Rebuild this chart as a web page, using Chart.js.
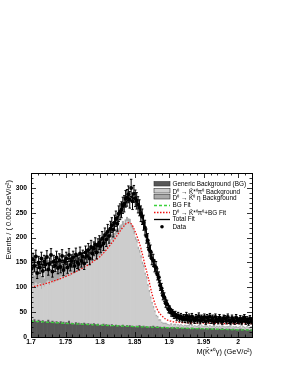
<!DOCTYPE html>
<html><head><meta charset="utf-8">
<script src="https://cdn.jsdelivr.net/npm/chart.js@4"></script>
<style>html,body{margin:0;padding:0;background:#fff;}canvas{display:block;}</style>
</head><body>
<canvas id="c" width="287" height="371"></canvas>
<script>
// ---- binning ----
const binStart = 1.7;
const binWidth = 0.002;

// ---- data counts (160 bins of 0.002 GeV/c^2) ----
const dataCounts = [
 138,156,143,162,129,150,140,158,133,152,
 146,161,136,147,165,132,152,144,160,139,
 155,141,163,135,151,158,140,165,145,153,
 160,143,166,150,147,168,153,162,148,170,
 163,175,158,181,168,178,186,170,184,190,
 183,198,188,205,196,212,203,218,225,216,
 230,238,228,248,252,256,265,268,278,280,
 287,276,300,273,288,279,274,266,260,248,
 242,230,220,203,194,176,172,158,154,143,
 140,126,120,104,98,84,80,68,66,56,
 55,49,48,44,45,40,43,38,41,36,
 39,35,43,34,40,32,41,36,33,39,
 34,42,32,38,35,40,31,39,34,41,
 33,38,30,40,35,32,39,34,31,38,
 37,32,40,33,30,38,34,31,39,33,
 32,37,30,36,39,31,35,29,37,32
];

// ---- stacked MC background histograms ----
const genericBG = [
 33,30,35,31,29,34,32,28,33,30,
 31,29,34,30,28,32,30,27,31,29,
 28,31,27,30,26,29,28,32,26,28,
 27,25,29,26,28,24,27,25,28,26,
 25,27,24,26,23,27,25,24,26,23,
 24,22,26,23,25,22,24,21,25,23,
 22,24,21,23,22,20,24,22,21,23,
 21,23,20,22,21,19,22,20,23,21,
 20,22,19,21,20,18,21,19,22,20,
 19,21,18,20,19,17,20,18,19,18,
 18,19,17,19,18,16,19,17,18,17,
 17,18,16,18,17,15,18,16,17,16,
 16,18,15,17,16,15,17,16,15,17,
 16,15,17,14,16,15,16,14,17,15,
 15,16,14,16,15,13,16,14,15,14,
 14,16,13,15,14,13,15,14,13,15
];
const kstarPi0BG = [
 66,74,70,78,69,72,76,68,74,71,
 76,82,79,74,84,80,78,86,81,85,
 86,90,94,88,97,92,95,99,96,101,
 100,106,103,110,107,113,109,116,112,118,
 117,124,121,128,126,133,130,136,134,140,
 140,146,150,148,158,155,163,166,170,168,
 176,180,186,184,193,196,200,198,206,210,
 210,206,200,194,186,176,168,156,146,138,
 126,118,106,96,82,72,56,48,36,30,
 22,18,14,12,9,8,6,7,5,5,
 4,5,3,4,5,3,4,3,5,4,
 3,4,4,3,5,3,4,3,4,3,
 4,3,3,4,3,5,3,4,3,4,
 3,4,3,3,4,3,4,3,3,4,
 3,3,4,3,4,3,3,4,3,3,
 4,3,3,4,3,3,4,3,3,4
];
const kEtaBG = [
 22,40,18,34,44,20,36,26,42,16,
 38,24,41,30,17,39,25,35,20,33,
 31,19,37,24,15,34,22,30,27,18,
 28,17,30,19,25,16,27,14,24,20,
 19,24,14,22,15,21,13,20,12,18,
 15,11,17,12,14,10,13,9,12,10,
 11,12,10,11,9,10,9,8,9,8,
 7,8,7,6,7,6,6,5,6,5,
 5,5,4,5,4,4,4,3,4,3,
 3,3,3,3,2,3,2,3,2,2,
 2,3,2,2,3,2,2,3,2,2,
 2,2,3,2,2,2,3,2,2,2,
 2,3,2,2,2,2,3,2,2,2,
 2,2,2,3,2,2,2,2,3,2,
 2,2,3,2,2,2,2,2,3,2,
 2,2,2,2,3,2,2,2,2,2
];

// ---- fit curves ----
const fitX     = [1.70,1.72,1.74,1.76,1.78,1.79,1.80,1.81,1.82,1.83,1.835,1.84,1.845,1.85,1.855,1.86,1.865,1.87,1.875,1.88,1.885,1.89,1.895,1.90,1.91,1.92,1.94,1.96,1.98,2.00,2.02];
const fitTotal = [143,147,152,160,172,181,192,209,228,252,265,275,280,278,268,250,222,190,160,138,115,94,76,62,46,39,34,32,31,31,31];
const fitSigBG = [100,107,116,128,143,152,162,177,195,215,224,230,228,215,197,174,145,118,88,65,50,42,36,33,30,29,28,28,27,27,27];
const bgFitX   = [1.70,1.75,1.80,1.85,1.90,1.95,2.00,2.02];
const bgFit    = [32,27.5,24,21,18.5,16.5,14.5,14];

// ---- axes ----
const xTicks = [1.7,1.75,1.8,1.85,1.9,1.95,2.0];
const xTickLabels = ['1.7','1.75','1.8','1.85','1.9','1.95','2'];
const yTicks = [0,50,100,150,200,250,300];
const yTickLabels = ['0','50','100','150','200','250','300'];

const FONT = "'Liberation Sans', Arial, Helvetica, sans-serif";
const centers = dataCounts.map((_, i) => +(binStart + binWidth * (i + 0.5)).toFixed(4));
const pts = arr => arr.map((v, i) => ({x: centers[i], y: v}));
const xy = (xs, ys) => xs.map((x, i) => ({x: x, y: ys[i]}));

const decoPlugin = {
  id: 'deco',
  afterDatasetsDraw(chart) {
    const {ctx, scales: {x, y}, chartArea: a} = chart;
    ctx.save();
    ctx.beginPath(); ctx.rect(a.left, a.top, a.right - a.left, a.bottom - a.top); ctx.clip();
    ctx.strokeStyle = '#000'; ctx.lineWidth = 1;
    dataCounts.forEach((v, i) => {
      const e = Math.sqrt(v);
      const px = x.getPixelForValue(centers[i]);
      const y1 = y.getPixelForValue(v + e), y2 = y.getPixelForValue(v - e);
      ctx.beginPath();
      ctx.moveTo(px, y1); ctx.lineTo(px, y2);
      ctx.moveTo(px - 1.2, y1); ctx.lineTo(px + 1.2, y1);
      ctx.moveTo(px - 1.2, y2); ctx.lineTo(px + 1.2, y2);
      ctx.stroke();
    });
    ctx.restore();
  },
  afterDraw(chart) {
    const {ctx, scales: {x, y}, chartArea: a} = chart;
    ctx.save();
    ctx.strokeStyle = '#000'; ctx.lineWidth = 1;
    ctx.strokeRect(Math.round(a.left) + 0.5, Math.round(a.top) + 0.5, Math.round(a.right - a.left), Math.round(a.bottom - a.top));
    ctx.beginPath();
    for (let k = 0; k <= 32; k++) {
      const v = 1.7 + k * 0.01;
      const px = Math.round(x.getPixelForValue(v)) + 0.5;
      const L = (k % 5 === 0) ? 5 : 2.5;
      ctx.moveTo(px, a.bottom); ctx.lineTo(px, a.bottom - L);
      ctx.moveTo(px, a.top); ctx.lineTo(px, a.top + L);
    }
    for (let v = 0; v <= 330; v += 10) {
      const py = Math.round(y.getPixelForValue(v)) + 0.5;
      const L = (v % 50 === 0) ? 5 : 2.5;
      ctx.moveTo(a.left, py); ctx.lineTo(a.left + L, py);
      ctx.moveTo(a.right, py); ctx.lineTo(a.right - L, py);
    }
    ctx.lineWidth = 0.8;
    ctx.stroke();

    ctx.fillStyle = '#000';
    ctx.font = '7.4px ' + FONT;
    ctx.textAlign = 'right'; ctx.textBaseline = 'middle';
    ctx.fillText('M(K\u0304*\u2070\u03B3) (GeV/c\u00B2)', a.right, 351.5);
    ctx.save();
    ctx.translate(8.5, 180); ctx.rotate(-Math.PI / 2);
    ctx.fillText('Events / ( 0.002 GeV/c\u00B2)', 0, 0);
    ctx.restore();

    const sx0 = 154, sx1 = 170, tx = 172.5;
    ctx.font = '6.4px ' + FONT;
    ctx.textAlign = 'left'; ctx.textBaseline = 'middle';
    const boxes = [
      {fill: '#575757', y0: 181.5, label: 'Generic Background (BG)', ty: 183.9},
      {fill: '#cdcdcd', y0: 188.5, label: 'D\u2070 \u2192 K\u0304*\u2070\u03C0\u2070 Background', ty: 192.2},
      {fill: '#a9a9a9', y0: 194.5, label: 'D\u2070 \u2192 K\u0304\u2070 \u03B7 Background', ty: 198.4}
    ];
    boxes.forEach(b => {
      ctx.fillStyle = b.fill; ctx.fillRect(sx0, b.y0, sx1 - sx0, 4.5);
      ctx.strokeStyle = '#333'; ctx.lineWidth = 0.6; ctx.strokeRect(sx0, b.y0, sx1 - sx0, 4.5);
      ctx.fillStyle = '#000'; ctx.fillText(b.label, tx, b.ty);
    });
    ctx.lineWidth = 1.3;
    ctx.strokeStyle = '#3bd13b'; ctx.setLineDash([3, 2]);
    ctx.beginPath(); ctx.moveTo(sx0, 205.5); ctx.lineTo(sx1, 205.5); ctx.stroke();
    ctx.fillStyle = '#000'; ctx.fillText('BG Fit', tx, 205.5);
    ctx.strokeStyle = '#ee1111'; ctx.setLineDash([1.5, 1.5]);
    ctx.beginPath(); ctx.moveTo(sx0, 212.5); ctx.lineTo(sx1, 212.5); ctx.stroke();
    ctx.fillText('D\u2070 \u2192 K\u0304*\u2070\u03C0\u2070+BG Fit', tx, 213.3);
    ctx.setLineDash([]);
    ctx.strokeStyle = '#000';
    ctx.beginPath(); ctx.moveTo(sx0, 219.5); ctx.lineTo(sx1, 219.5); ctx.stroke();
    ctx.fillText('Total Fit', tx, 219.2);
    ctx.beginPath(); ctx.arc((sx0 + sx1) / 2, 226.8, 1.8, 0, Math.PI * 2); ctx.fill();
    ctx.fillText('Data', tx, 226.8);
    ctx.restore();
  }
};

new Chart(document.getElementById('c'), {
  data: {
    datasets: [
      {type: 'line', label: 'Data', data: pts(dataCounts), showLine: false, pointRadius: 2,
       pointBackgroundColor: '#000', pointBorderWidth: 0, stack: 's_data', order: 1},
      {type: 'line', label: 'Total Fit', data: xy(fitX, fitTotal), borderColor: '#000', borderWidth: 1.5,
       pointRadius: 0, cubicInterpolationMode: 'monotone', fill: false, stack: 's_tot', order: 2},
      {type: 'line', label: 'Sig+BG Fit', data: xy(fitX, fitSigBG), borderColor: '#ee1111', borderWidth: 1.3,
       borderDash: [1.5, 1.5], pointRadius: 0, cubicInterpolationMode: 'monotone', fill: false, stack: 's_red', order: 3},
      {type: 'line', label: 'BG Fit', data: xy(bgFitX, bgFit), borderColor: '#3bd13b', borderWidth: 1.3,
       borderDash: [3, 2], pointRadius: 0, cubicInterpolationMode: 'monotone', fill: false, stack: 's_green', order: 4},
      {type: 'bar', label: 'Generic BG', data: pts(genericBG), backgroundColor: '#575757', borderWidth: 0,
       barPercentage: 1, categoryPercentage: 1, stack: 'hist', order: 10},
      {type: 'bar', label: 'Kstar pi0 BG', data: pts(kstarPi0BG), backgroundColor: '#cdcdcd', borderWidth: 0,
       barPercentage: 1, categoryPercentage: 1, stack: 'hist', order: 10},
      {type: 'bar', label: 'K eta BG', data: pts(kEtaBG), backgroundColor: '#a9a9a9', borderWidth: 0,
       barPercentage: 1, categoryPercentage: 1, stack: 'hist', order: 10}
    ]
  },
  options: {
    responsive: false, animation: false, devicePixelRatio: 1,
    layout: {padding: {left: 0, right: 35, top: 173, bottom: 0}},
    plugins: {legend: {display: false}, tooltip: {enabled: false}},
    scales: {
      x: {type: 'linear', min: 1.7, max: 2.02, stacked: true, offset: false,
          grid: {display: false, drawTicks: false, offset: false}, border: {display: false},
          afterBuildTicks: s => { s.ticks = xTicks.map(v => ({value: v})); },
          afterFit: s => { s.height = 34; },
          ticks: {padding: 1, color: '#000', font: {family: FONT, size: 6.8, weight: 'bold'},
                  maxRotation: 0, autoSkip: false, callback: (v, i) => xTickLabels[i]}},
      y: {type: 'linear', min: 0, max: 330, stacked: true,
          grid: {display: false, drawTicks: false}, border: {display: false},
          afterBuildTicks: s => { s.ticks = yTicks.map(v => ({value: v})); },
          afterFit: s => { s.width = 31; },
          ticks: {padding: 4, color: '#000', font: {family: FONT, size: 6.8, weight: 'bold'},
                  autoSkip: false, callback: (v, i) => yTickLabels[i]}}
    }
  },
  plugins: [decoPlugin]
});
</script>
</body></html>
